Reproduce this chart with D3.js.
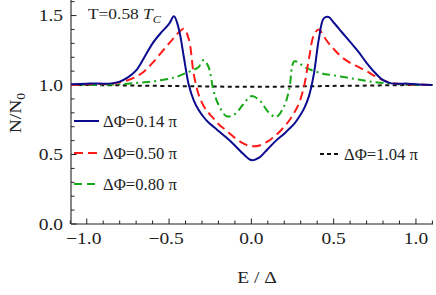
<!DOCTYPE html>
<html><head><meta charset="utf-8">
<script src="https://cdn.jsdelivr.net/npm/d3@7"></script>
<style>
html,body{margin:0;padding:0;background:#fff;}
svg text{font-family:"Liberation Serif","Times New Roman",serif;fill:#222;}
</style></head>
<body><svg id="c" width="436" height="295"></svg>
<script>
const energy = [-1.1,-1.0,-0.95,-0.9,-0.85,-0.8,-0.75,-0.7,-0.65,-0.6,-0.55,-0.5,-0.47,-0.44,-0.41,-0.38,-0.35,-0.32,-0.29,-0.26,-0.23,-0.2,-0.15,-0.1,-0.05,0,0.05,0.1,0.15,0.2,0.23,0.26,0.29,0.32,0.35,0.38,0.41,0.44,0.47,0.5,0.55,0.6,0.65,0.7,0.75,0.8,0.85,0.9,0.95,1.0,1.1];
const dos014 = [1.005,1.01,1.012,1.01,1.012,1.025,1.055,1.105,1.20,1.30,1.375,1.44,1.495,1.40,1.20,1.00,0.89,0.82,0.77,0.73,0.70,0.67,0.62,0.565,0.505,0.46,0.48,0.54,0.60,0.65,0.685,0.72,0.77,0.83,0.92,1.08,1.33,1.48,1.49,1.45,1.38,1.31,1.24,1.16,1.09,1.035,1.012,1.01,1.01,1.005,1.0];
const dos050 = [1.0,1.005,1.008,1.008,1.01,1.02,1.035,1.06,1.10,1.16,1.23,1.30,1.34,1.38,1.405,1.33,1.08,0.93,0.85,0.80,0.76,0.72,0.67,0.62,0.58,0.56,0.565,0.595,0.64,0.70,0.745,0.80,0.87,0.99,1.19,1.36,1.40,1.35,1.30,1.26,1.20,1.16,1.13,1.10,1.065,1.035,1.015,1.008,1.005,1.003,1.0];
const dos080 = [1.0,1.0,1.0,1.0,1.003,1.006,1.01,1.015,1.02,1.025,1.035,1.045,1.055,1.065,1.08,1.095,1.11,1.13,1.18,1.13,0.96,0.86,0.775,0.79,0.86,0.92,0.89,0.81,0.77,0.85,0.97,1.17,1.16,1.13,1.115,1.10,1.09,1.08,1.075,1.07,1.06,1.05,1.04,1.03,1.02,1.015,1.01,1.005,1.0,1.0,1.0];
const dos104 = [1.0,1.0,1.0,0.999,0.999,0.998,0.997,0.996,0.995,0.995,0.994,0.994,0.993,0.993,0.992,0.992,0.991,0.991,0.99,0.99,0.989,0.989,0.988,0.988,0.987,0.987,0.987,0.988,0.988,0.989,0.989,0.99,0.99,0.991,0.991,0.992,0.992,0.993,0.993,0.994,0.994,0.995,0.995,0.996,0.997,0.998,0.999,0.999,1.0,1.0,1.0];
const seriesLabels = ["ΔΦ=0.14 π","ΔΦ=0.50 π","ΔΦ=0.80 π","ΔΦ=1.04 π"];
const seriesColors = ["#0b0b8f","#ff1a1a","#16a816","#111111"];
const xTicks = [-1.0,-0.5,0.0,0.5,1.0];
const yTicks = [0.0,0.5,1.0,1.5];
const xLabel = "E / Δ";
const annot = "T=0.58";

const svg = d3.select("#c");
const L=71, R=433, T=0, B=224;
const x = d3.scaleLinear().domain([-1.1,1.1]).range([70.3,432.4]);
const y = d3.scaleLinear().domain([0,1.612]).range([B,T]);

const fmt = d => (d<0?"−":"")+Math.abs(d).toFixed(1);
function txt(g, px, py, s, anchor, size, sx){
  return g.append("text").attr("transform",`translate(${px},${py}) scale(${sx},1)`)
    .attr("text-anchor",anchor).style("font-size",size+"px").text(s);
}

// axes
const gx = svg.append("g");
gx.append("line").attr("x1",L).attr("x2",R).attr("y1",B).attr("y2",B).attr("stroke","#222").attr("stroke-width",1.1);
d3.range(-11,12).forEach(i=>{
  const v=i/10, major=Math.abs(i%5)===0;
  gx.append("line").attr("x1",x(v)).attr("x2",x(v)).attr("y1",B).attr("y2",B-(major?5.5:3.5)).attr("stroke","#222").attr("stroke-width",1);
});
xTicks.forEach(v=>{ txt(gx, x(v)-(v<0?3:0), 244, fmt(v), "middle", 16.5, 1.18); });
txt(gx, (L+R)/2+5, 283, xLabel, "middle", 17, 1.15);

const gy = svg.append("g");
gy.append("line").attr("x1",L).attr("x2",L).attr("y1",B).attr("y2",0).attr("stroke","#222").attr("stroke-width",1.1);
d3.range(0,17).forEach(i=>{
  const v=i/10, major=i%5===0;
  gy.append("line").attr("x1",L).attr("x2",L+(major?5.5:3.5)).attr("y1",y(v)).attr("y2",y(v)).attr("stroke","#222").attr("stroke-width",1);
});
yTicks.forEach(v=>{ txt(gy, 63, y(v)+5.5, v.toFixed(1), "end", 16.5, 1.18); });
const yl = svg.append("text").attr("transform","translate(21,113) rotate(-90) scale(1.15,1)").attr("text-anchor","middle").style("font-size","17px");
yl.append("tspan").text("N/N");
yl.append("tspan").attr("dy",4).style("font-size","12px").text("0");

// curves
const allSeries=[dos014,dos050,dos080,dos104];
const dashes=[null,"9,5","8,4,2,4","4,3.5"];
const line = d3.line().x((d,i)=>x(energy[i])).y(d=>y(d)).curve(d3.curveCatmullRom.alpha(0.5));
svg.append("clipPath").attr("id","clip").append("rect").attr("x",L).attr("y",0).attr("width",R-L+3).attr("height",B);
const gc = svg.append("g").attr("clip-path","url(#clip)");
[3,2,1,0].forEach(k=>{
  gc.append("path").datum(allSeries[k]).attr("d",line).attr("fill","none")
    .attr("stroke",seriesColors[k]).attr("stroke-width",2)
    .attr("stroke-dasharray",dashes[k]);
});

// legend
const legPos=[[74,121],[74,153],[74,184],[320,154]];
const legLen=[25,25,25,20];
const legDash=[null,"9,5","8,5","4,3"];
seriesLabels.forEach((s,k)=>{
  const [lx,ly]=legPos[k];
  svg.append("line").attr("x1",lx).attr("x2",lx+legLen[k]).attr("y1",ly).attr("y2",ly)
    .attr("stroke",seriesColors[k]).attr("stroke-width",2).attr("stroke-dasharray",legDash[k]);
  txt(svg, lx+legLen[k]+4, ly+5.5, s, "start", 16, 1.04);
});

// annotation
const an = svg.append("text").attr("transform","translate(88,19) scale(1.12,1)").style("font-size","15.5px");
an.append("tspan").text(annot+" ");
an.append("tspan").style("font-style","italic").text(" T");
an.append("tspan").attr("dy",3.5).style("font-style","italic").style("font-size","11px").text("C");
</script></body></html>
